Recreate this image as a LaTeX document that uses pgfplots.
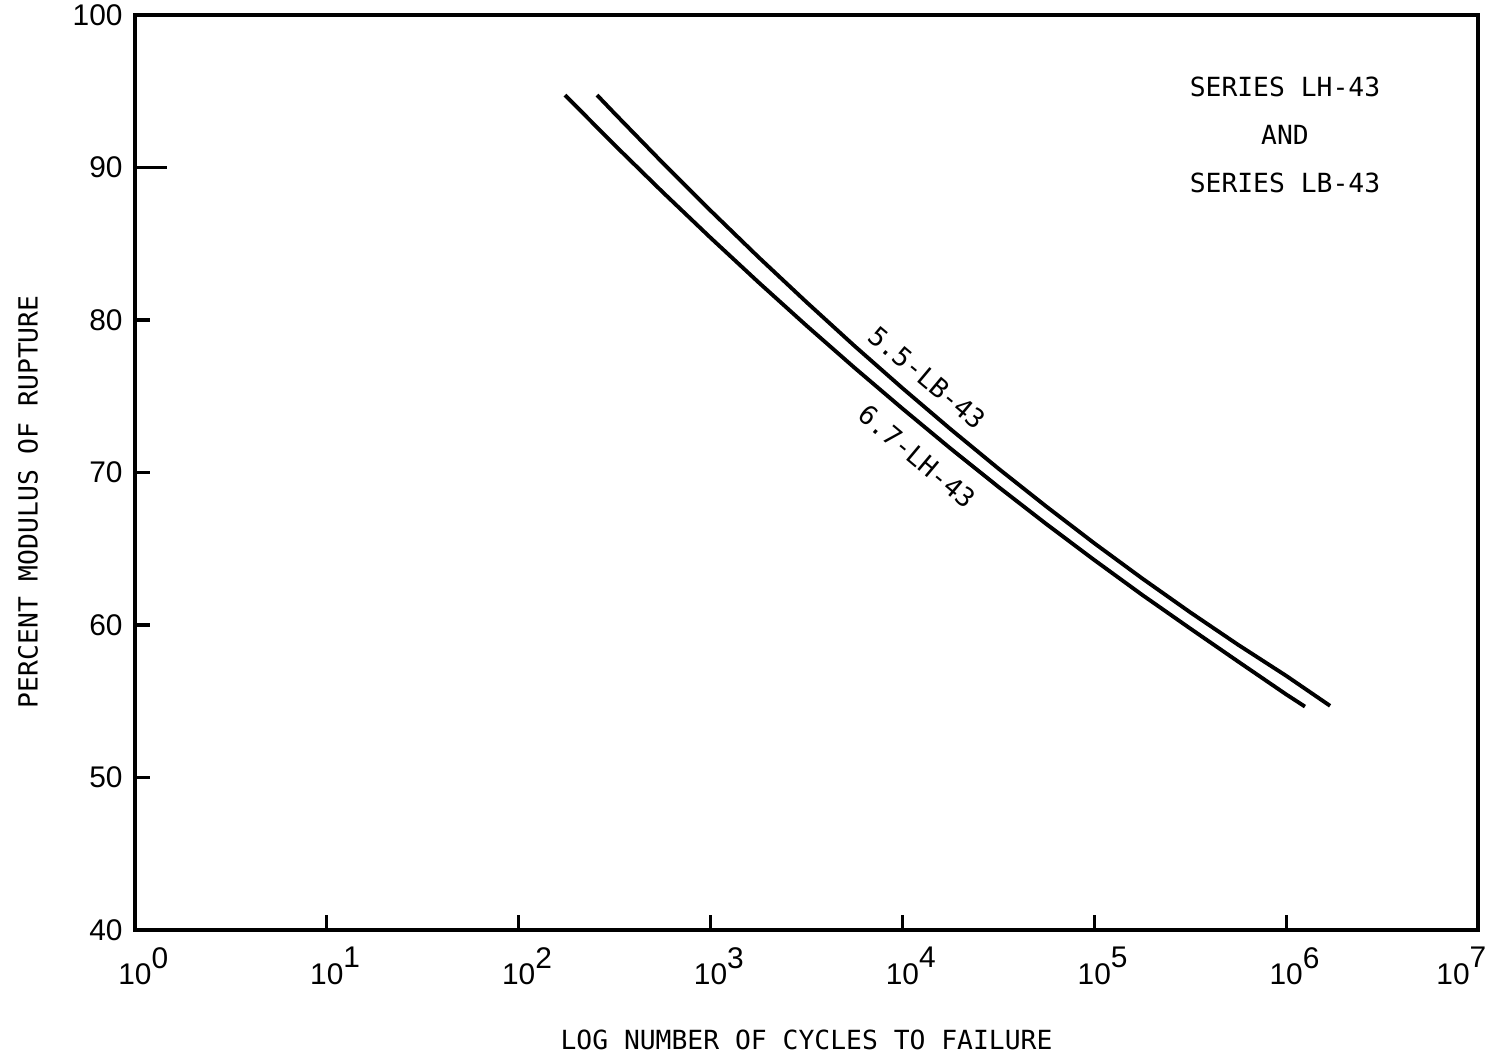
\documentclass[border=0pt]{standalone}
\usepackage{fontspec}
\setmainfont{DejaVu Sans Mono}
\newfontfamily\tickfont{Liberation Sans}
\usepackage{pgfplots}
\pgfplotsset{compat=1.18}
\newcommand\tl[1]{10\rlap{\raisebox{1.05ex}{#1}}}
\newcommand\tlr[1]{\llap{10}\raisebox{1.05ex}{#1}}
\begin{document}
\begin{tikzpicture}
\begin{axis}[
  name=ax, scale only axis, width=13.43cm, height=9.15cm,
  xmode=log, log basis x=10, xmin=1, xmax=1e7, ymin=40, ymax=100,
  xtick={1,10,100,1000,10000,100000,1000000,10000000},
  xticklabels={\tl{0},\tl{1},\tl{2},\tl{3},\tl{4},\tl{5},\tl{6},\tlr{7}},
  xminorticks=false, yminorticks=false,
  ytick={40,50,60,70,80,100},
  extra y ticks={90},
  extra y tick style={major tick length=0.32cm},
  tick pos=left, tick align=inside, major tick length=0.15cm,
  tick style={line width=0.9pt, black},
  axis line style={line width=0.9pt},
  ticklabel style={font=\tickfont\fontsize{8.5}{10}\selectfont},
  /pgf/number format/assume math mode=true,
  xticklabel style={yshift=-0.05cm},
  xlabel={LOG NUMBER OF CYCLES TO FAILURE},
  ylabel={PERCENT MODULUS OF RUPTURE},
  label style={font=\fontsize{7.5}{9}\selectfont},
  xlabel style={at={(axis description cs:0.5,0)}, anchor=center, yshift=-1.1cm},
  ylabel style={at={(axis description cs:-0.0797,0.468)}, anchor=center},
]
% 6.7-LH-43
\addplot[black, line width=1.1pt] coordinates {
  (174.2,94.75) (316.2,91.47) (562.3,88.39) (1000,85.39) (1778,82.47)
  (3162,79.63) (5623,76.87) (10000,74.19) (17783,71.58) (31623,69.06)
  (56234,66.62) (100000,64.26) (177828,61.97) (316228,59.77)
  (562341,57.60) (1000000,55.45) (1253000,54.65)};
% 5.5-LB-43
\addplot[black, line width=1.1pt] coordinates {
  (255.9,94.75) (316.2,93.54) (562.3,90.31) (1000,87.17) (1778,84.12)
  (3162,81.17) (5623,78.30) (10000,75.53) (17783,72.85) (31623,70.26)
  (56234,67.77) (100000,65.36) (177828,63.05) (316228,60.83)
  (562341,58.70) (1000000,56.67) (1694000,54.70)};
\node[rotate=-40, font=\fontsize{7.5}{9}\selectfont] at (axis cs:13500,76.2) {5.5-LB-43};
\node[rotate=-40, font=\fontsize{7.5}{9}\selectfont] at (axis cs:11900,71.05) {6.7-LH-43};
\node[align=center, font=\fontsize{7.5}{13.6}\selectfont] at (axis cs:9.86e5,92.13) {SERIES LH-43\\AND\\SERIES LB-43};
\end{axis}
\pgfresetboundingbox
\path ([shift={(-1.35cm,-1.28cm)}]ax.south west) rectangle ([shift={(0.19cm,0.15cm)}]ax.north east);
\end{tikzpicture}
\end{document}
